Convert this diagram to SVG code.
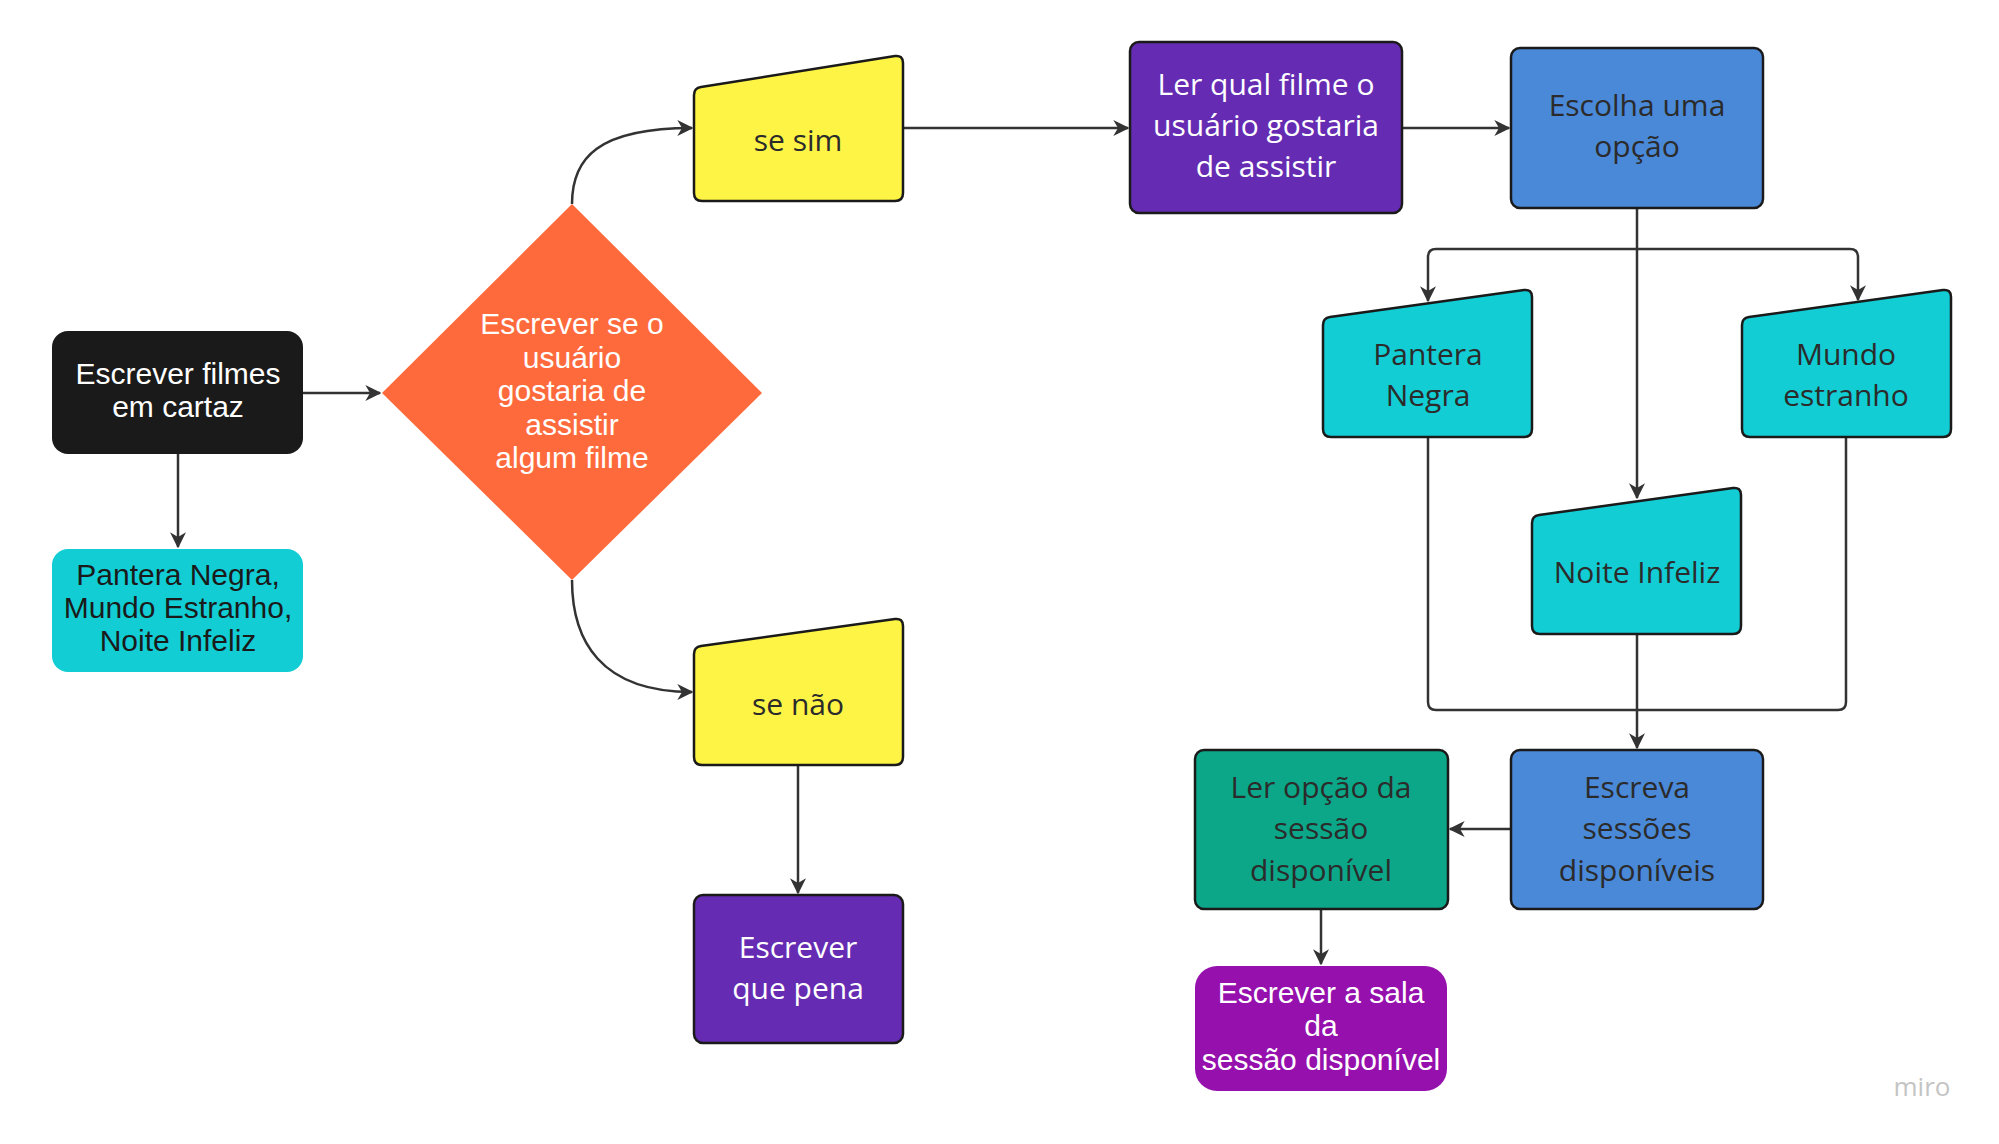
<svg xmlns="http://www.w3.org/2000/svg" width="1999" height="1144" viewBox="0 0 1999 1144">
<defs>
<style>
.a{font-family:"Liberation Sans",Arial,sans-serif;font-size:30px;text-anchor:middle}
.o{font-family:"Open Sans","Noto Sans",sans-serif;font-size:30px;text-anchor:middle}
.w{fill:#ffffff}
.d{fill:#2b2b2b}
.bd{stroke:#1a1a1a;stroke-width:2.5}
.c{fill:none;stroke:#333333;stroke-width:2.5}
</style>
<marker id="ar" viewBox="0 0 12 12" refX="11" refY="6" markerWidth="16" markerHeight="16" markerUnits="userSpaceOnUse" orient="auto">
<path d="M0,0 L12,6 L0,12 L3.5,6 Z" fill="#333333"/>
</marker>
</defs>
<rect width="1999" height="1144" fill="#ffffff"/>

<g id="connectors">
<path class="c" d="M303,393 L380,393" marker-end="url(#ar)"/>
<path class="c" d="M178,454 L178,547" marker-end="url(#ar)"/>
<path class="c" d="M572,204 C572,158 598,128 692,128" marker-end="url(#ar)"/>
<path class="c" d="M572,580 C572,640 600,692 692,692" marker-end="url(#ar)"/>
<path class="c" d="M798,765 L798,893" marker-end="url(#ar)"/>
<path class="c" d="M903,128 L1128,128" marker-end="url(#ar)"/>
<path class="c" d="M1402,128 L1509,128" marker-end="url(#ar)"/>
<path class="c" d="M1637,208 L1637,498" marker-end="url(#ar)"/>
<path class="c" d="M1637,249 L1436,249 Q1428,249 1428,257 L1428,301" marker-end="url(#ar)"/>
<path class="c" d="M1637,249 L1850,249 Q1858,249 1858,257 L1858,300" marker-end="url(#ar)"/>
<path class="c" d="M1428,437 L1428,702 Q1428,710 1436,710 L1637,710"/>
<path class="c" d="M1846,437 L1846,702 Q1846,710 1838,710 L1637,710"/>
<path class="c" d="M1637,634 L1637,748" marker-end="url(#ar)"/>
<path class="c" d="M1511,829 L1450,829" marker-end="url(#ar)"/>
<path class="c" d="M1321,909 L1321,964" marker-end="url(#ar)"/>
</g>

<g id="n-filmes">
<rect x="52" y="331" width="251" height="123" rx="16" fill="#1a1a1a"/>
<text class="a w" x="178" y="384">Escrever filmes</text>
<text class="a w" x="178" y="417">em cartaz</text>
</g>

<g id="n-lista">
<rect x="52" y="549" width="251" height="123" rx="16" fill="#12cdd4"/>
<text class="a" fill="#1a1a1a" x="178" y="585">Pantera Negra,</text>
<text class="a" fill="#1a1a1a" x="178" y="618">Mundo Estranho,</text>
<text class="a" fill="#1a1a1a" x="178" y="651">Noite Infeliz</text>
</g>

<g id="n-decisao">
<path d="M572,204 L762,393 L572,580 L382,393 Z" fill="#ff6a3d"/>
<text class="a w" x="572" y="334">Escrever se o</text>
<text class="a w" x="572" y="368">usuário</text>
<text class="a w" x="572" y="401">gostaria de</text>
<text class="a w" x="572" y="435">assistir</text>
<text class="a w" x="572" y="468">algum filme</text>
</g>

<g id="n-sesim">
<path class="bd" d="M694,95 Q694,88 701,87 L895,56 Q903,55 903,63 L903,193 Q903,201 895,201 L702,201 Q694,201 694,193 Z" fill="#fef445"/>
<text class="o d" x="798" y="151">se sim</text>
</g>

<g id="n-senao">
<path class="bd" d="M694,654 Q694,647 701,646 L895,619 Q903,618 903,626 L903,757 Q903,765 895,765 L702,765 Q694,765 694,757 Z" fill="#fef445"/>
<text class="o d" x="798" y="715">se não</text>
</g>

<g id="n-quepena">
<rect class="bd" x="694" y="895" width="209" height="148" rx="9" fill="#652cb3"/>
<text class="o w" x="798" y="958">Escrever</text>
<text class="o w" x="798" y="999">que pena</text>
</g>

<g id="n-lerfilme">
<rect class="bd" x="1130" y="42" width="272" height="171" rx="9" fill="#652cb3"/>
<text class="o w" x="1266" y="95">Ler qual filme o</text>
<text class="o w" x="1266" y="136">usuário gostaria</text>
<text class="o w" x="1266" y="177">de assistir</text>
</g>

<g id="n-escolha">
<rect class="bd" x="1511" y="48" width="252" height="160" rx="9" fill="#4a88d8"/>
<text class="o d" x="1637" y="116">Escolha uma</text>
<text class="o d" x="1637" y="157">opção</text>
</g>

<g id="n-pantera">
<path class="bd" d="M1323,325 Q1323,318 1330,317 L1524,290 Q1532,289 1532,297 L1532,429 Q1532,437 1524,437 L1331,437 Q1323,437 1323,429 Z" fill="#12cdd4"/>
<text class="o d" x="1428" y="365">Pantera</text>
<text class="o d" x="1428" y="406">Negra</text>
</g>

<g id="n-mundo">
<path class="bd" d="M1742,325 Q1742,318 1749,317 L1943,290 Q1951,289 1951,297 L1951,429 Q1951,437 1943,437 L1750,437 Q1742,437 1742,429 Z" fill="#12cdd4"/>
<text class="o d" x="1846" y="365">Mundo</text>
<text class="o d" x="1846" y="406">estranho</text>
</g>

<g id="n-noite">
<path class="bd" d="M1532,523 Q1532,516 1539,515 L1733,488 Q1741,487 1741,495 L1741,626 Q1741,634 1733,634 L1540,634 Q1532,634 1532,626 Z" fill="#12cdd4"/>
<text class="o d" x="1637" y="583">Noite Infeliz</text>
</g>

<g id="n-escreva">
<rect class="bd" x="1511" y="750" width="252" height="159" rx="9" fill="#4a88d8"/>
<text class="o d" x="1637" y="798">Escreva</text>
<text class="o d" x="1637" y="839">sessões</text>
<text class="o d" x="1637" y="881">disponíveis</text>
</g>

<g id="n-leropcao">
<rect class="bd" x="1195" y="750" width="253" height="159" rx="9" fill="#0ca789"/>
<text class="o d" x="1321" y="798">Ler opção da</text>
<text class="o d" x="1321" y="839">sessão</text>
<text class="o d" x="1321" y="881">disponível</text>
</g>

<g id="n-sala">
<rect x="1195" y="966" width="252" height="125" rx="22" fill="#9510ac"/>
<text class="a w" x="1321" y="1003">Escrever a sala</text>
<text class="a w" x="1321" y="1036">da</text>
<text class="a w" x="1321" y="1070">sessão disponível</text>
</g>

<text x="1922" y="1096" font-family="'Open Sans','Noto Sans',sans-serif" font-size="26" fill="#c4c4c4" text-anchor="middle">miro</text>
</svg>
